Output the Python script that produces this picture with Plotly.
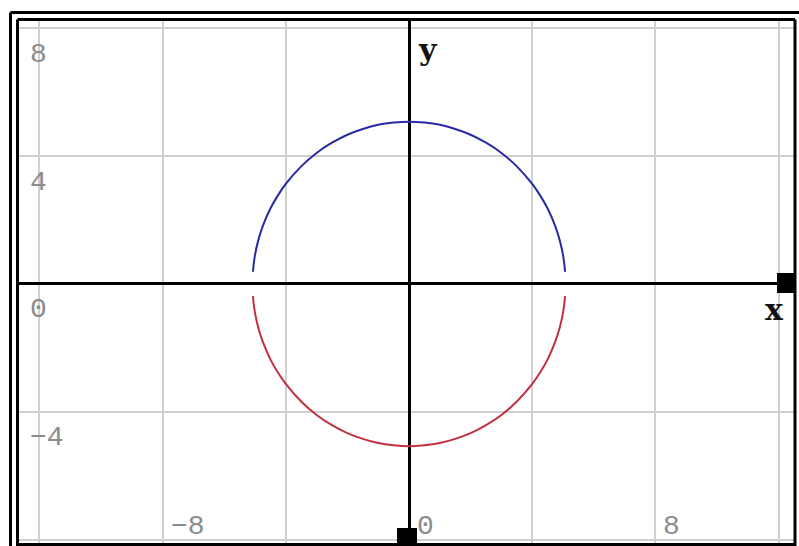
import plotly.graph_objects as go

# ---- data ----
x_pts = [-5.065, -5.05, -5.0, -4.9, -4.75, -4.5, -4.25, -4.0, -3.5, -3.0, -2.5, -2.0, -1.5, -1.0, -0.5, 0.0,
         0.5, 1.0, 1.5, 2.0, 2.5, 3.0, 3.5, 4.0, 4.25, 4.5, 4.75, 4.9, 5.0, 5.05, 5.065]
y_upper = [0.38, 0.55, 0.90, 1.34, 1.80, 2.36, 2.78, 3.13, 3.68, 4.10, 4.42, 4.67, 4.85, 4.98, 5.05, 5.08,
           5.05, 4.98, 4.85, 4.67, 4.42, 4.10, 3.68, 3.13, 2.78, 2.36, 1.80, 1.34, 0.90, 0.55, 0.38]
y_lower = [-v for v in y_upper]

y_tick_vals = [8, 4, 0, -4]
y_tick_text = ["8", "4", "0", "\u22124"]
x_tick_vals = [-8, 0, 8]
x_tick_text = ["\u22128", "0", "8"]

# ---- geometry (pixels) ----
W, H = 799, 546
L, R, T, B = 19, 795, 21, 544


def px(x):
    return (x - L) / (R - L)


def py(y):
    return (B - y) / (B - T)


fig = go.Figure()
fig.add_trace(go.Scatter(x=x_pts, y=y_upper, mode="lines", line=dict(color="#2a2aa6", width=2, shape="spline"),
                         showlegend=False, hoverinfo="skip"))
fig.add_trace(go.Scatter(x=x_pts, y=y_lower, mode="lines", line=dict(color="#c23040", width=2, shape="spline"),
                         showlegend=False, hoverinfo="skip"))

shapes = []
blk = dict(color="black", width=3)
# outer frame
shapes.append(dict(type="line", xref="paper", yref="paper", x0=px(10.5), x1=px(810), y0=py(12.5), y1=py(12.5), line=blk))
shapes.append(dict(type="line", xref="paper", yref="paper", x0=px(10.5), x1=px(10.5), y0=py(12.5), y1=py(560), line=blk))
# inner frame
shapes.append(dict(type="line", xref="paper", yref="paper", x0=px(17.5), x1=px(795), y0=py(19.5), y1=py(19.5), line=blk))
shapes.append(dict(type="line", xref="paper", yref="paper", x0=px(17.5), x1=px(17.5), y0=py(19.5), y1=py(560), line=blk))
shapes.append(dict(type="line", xref="paper", yref="paper", x0=px(795), x1=px(795), y0=py(19.5), y1=py(560), line=blk))
shapes.append(dict(type="line", xref="paper", yref="paper", x0=px(17.5), x1=px(795), y0=py(544.5), y1=py(544.5), line=blk))
# handles
shapes.append(dict(type="rect", xref="paper", yref="paper", x0=px(397), x1=px(417), y0=py(528), y1=py(548),
                   fillcolor="black", line=dict(width=0)))
shapes.append(dict(type="rect", xref="paper", yref="paper", x0=px(777), x1=px(796), y0=py(273), y1=py(293),
                   fillcolor="black", line=dict(width=0)))

annotations = []
lab_font = dict(family="Liberation Mono", size=28, color="#8c8c8c")
for v, t in zip(y_tick_vals, y_tick_text):
    annotations.append(dict(x=px(28), xref="paper", y=v, yref="y", text=t, showarrow=False,
                            xanchor="left", yanchor="middle", yshift=-26, font=lab_font))
for v, t in zip(x_tick_vals, x_tick_text):
    annotations.append(dict(x=v, xref="x", y=py(526), yref="paper", text=t, showarrow=False,
                            xanchor="left", yanchor="middle", xshift=6, font=lab_font))
ax_font = dict(family="DejaVu Serif", size=30, color="#111111")
annotations.append(dict(x=px(428), xref="paper", y=py(50), yref="paper", text="<b>y</b>", showarrow=False,
                        xanchor="center", yanchor="middle", font=ax_font))
annotations.append(dict(x=px(774), xref="paper", y=py(309), yref="paper", text="<b>x</b>", showarrow=False,
                        xanchor="center", yanchor="middle", font=ax_font))

fig.update_layout(
    width=W, height=H,
    margin=dict(l=L, r=W - R, t=T, b=H - B),
    paper_bgcolor="white", plot_bgcolor="white",
    shapes=shapes, annotations=annotations,
    xaxis=dict(range=[-12.66, 12.53], tick0=0, dtick=4, showgrid=True, gridcolor="#d0d0d0", gridwidth=1.5,
               zeroline=True, zerolinecolor="black", zerolinewidth=2.5, showticklabels=False, ticks="",
               showline=False, fixedrange=True),
    yaxis=dict(range=[-8.14, 8.23], tick0=0, dtick=4, showgrid=True, gridcolor="#d0d0d0", gridwidth=1.5,
               zeroline=True, zerolinecolor="black", zerolinewidth=2.5, showticklabels=False, ticks="",
               showline=False, fixedrange=True),
)

fig.write_html("out.html", config={"displayModeBar": False},
               post_script="document.body.style.margin='0';document.body.style.overflow='hidden';")
